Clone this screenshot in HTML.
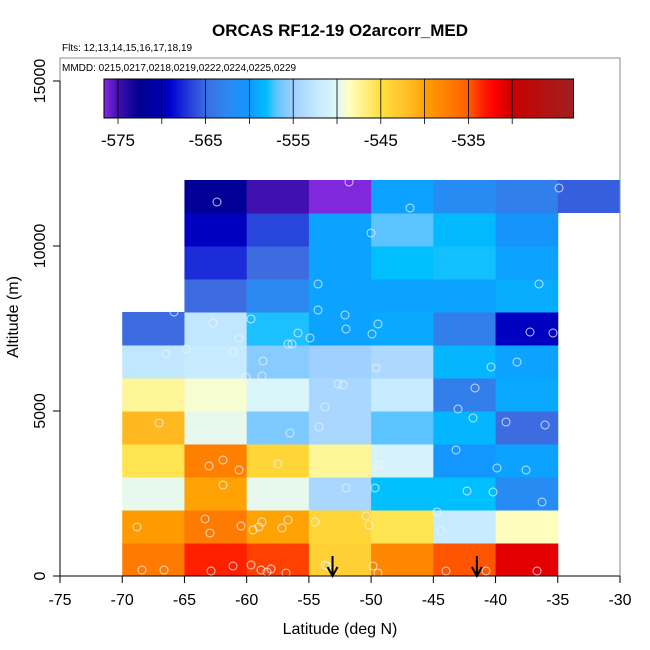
<!DOCTYPE html>
<html><head><meta charset="utf-8"><style>
body{margin:0;background:#fff}
svg{display:block;font-family:"Liberation Sans",sans-serif}
</style></head><body>
<svg id="chart" width="650" height="650" viewBox="0 0 650 650" xmlns="http://www.w3.org/2000/svg"></svg>
<script>
// ---- data ----
const latEdges = [-70,-65,-60,-55,-50,-45,-40];      // left edge of each column (5 deg wide)
const altRows = [0,1000,2000,3000,4000,5000,6000,7000,8000,9000,10000,11000]; // bottom of each row (1000 m)
// values[row][col]; null = empty
const values = [
 [-537,-533.4,-534.2,-543.5,-538,-534.7,-531],
 [-539.5,-537,-540.2,-544,-545.5,-552,-548.5],
 [-549.7,-540.2,-549.7,-554.3,-558,-558,-562],
 [-545.5,-537.5,-544,-547.5,-550.8,-560.3,-559.5],
 [-541.4,-549.7,-556,-554.3,-557,-558.5,-565],
 [-547.5,-549,-550.5,-554.3,-552,-563.5,-559.2],
 [-552.5,-552,-555.7,-555,-554,-558.5,-559.5],
 [-565,-552.5,-557.7,-559.5,-559.2,-563.5,-569.5],
 [null,-565,-562.5,-559.5,-559.5,-559.5,-559],
 [null,-567.5,-565,-559.5,-558,-557.8,-559.5],
 [null,-569.5,-566.5,-559.5,-557,-558.3,-560.5],
 [null,-572,-575,-576.5,-559.5,-562,-563.5]
];
const extraLat = [-35]; const extraAlt = [11000]; const extraVal = [-565.5];
const ptLat = [];
const ptAlt = [];
const ptPx = [[349,182],[217,202],[410,208],[371,233],[318,284],[539,284],[174,312],[213,323],[251,319],[318,310],[345,315],[346,329],[378,324],[239,338],[298,333],[288,344],[292,344],[310,338],[372,334],[166,354],[186,349],[233,352],[263,361],[491,367],[517,362],[530,332],[553,333],[246,377],[376,368],[262,376],[343,385],[338,384],[325,407],[475,388],[458,409],[473,418],[159,423],[290,433],[319,427],[506,422],[545,425],[209,466],[223,460],[239,470],[278,464],[456,450],[497,468],[526,470],[172,484],[223,485],[377,465],[380,465],[346,488],[467,491],[493,492],[154,503],[168,500],[375,488],[437,512],[542,502],[205,519],[210,533],[241,526],[262,522],[259,527],[253,530],[282,528],[288,520],[315,522],[366,516],[369,525],[137,527],[441,531],[142,570],[164,570],[211,571],[233,566],[251,565],[261,570],[271,569],[267,572],[286,573],[325,565],[327,566],[373,566],[378,573],[446,571],[486,571],[537,571],[559,188]];
const arrowLat = [-53.1,-41.5];
const xTicks = [-75,-70,-65,-60,-55,-50,-45,-40,-35,-30];
const yTicks = [0,5000,10000,15000];
const cbTicks = [-575,-570,-565,-560,-555,-550,-545,-540,-535,-530];
const cbLabels = [-575,-565,-555,-545,-535];
const cmV = [-576.7,-575,-572.5,-570,-569,-567.5,-565,-562.6,-560,-558,-557,-555,-552,-550,-548.6,-545,-541.4,-540,-537.5,-535,-533.4,-532,-530,-523];
const cmC = ["#8a2be2","#4010b0","#000090","#0000b0","#0000d0","#1c2cd8","#3c6ce0","#2c88f0","#1098ff","#00bfff","#5cc4ff","#a0d0ff","#c8ecff","#e0f8f8","#ffffc0","#ffe040","#ffb820","#ffa000","#ff8000","#ff6000","#ff2000","#ff0000","#c80000","#a02020"];
ptPx.forEach(p=>{ptLat.push(-75+(p[0]-60)/12.444);ptAlt.push((576-p[1])/0.033);});

// ---- scales ----
const X = v => 60 + (v+75)*560/45;
const Y = v => 576 - v*0.033;
const CB = v => 118 + (v+575)*43.8/5;
function hex(c){return [1,3,5].map(i=>parseInt(c.substr(i,2),16));}
function cmap(v){
  if(v<=cmV[0])return cmC[0];
  for(let i=1;i<cmV.length;i++){ if(v<=cmV[i]){const t=(v-cmV[i-1])/(cmV[i]-cmV[i-1]);const a=hex(cmC[i-1]),b=hex(cmC[i]);return 'rgb('+a.map((x,k)=>Math.round(x+(b[k]-x)*t)).join(',')+')';}}
  return cmC[cmC.length-1];
}
const svg=document.getElementById('chart');const NS='http://www.w3.org/2000/svg';
function mk(tag,at,parent){const e=document.createElementNS(NS,tag);for(const k in at)e.setAttribute(k,at[k]);(parent||svg).appendChild(e);return e;}
function txt(s,at){const e=mk('text',at);e.textContent=s;return e;}

const g=mk('g',{});


values.forEach((row,r)=>row.forEach((v,c)=>{ if(v===null)return;
  const e=mk('rect',{x:X(latEdges[c]),y:Y(altRows[r]+1000),width:X(latEdges[c]+5)-X(latEdges[c])+0.5,height:Y(altRows[r])-Y(altRows[r]+1000)+0.5,fill:cmap(v)},g);
  
  
}));
extraVal.forEach((v,i)=>{const e=mk('rect',{x:X(extraLat[i]),y:Y(extraAlt[i]+1000),width:X(extraLat[i]+5)-X(extraLat[i]),height:Y(extraAlt[i])-Y(extraAlt[i]+1000),fill:cmap(v)},g);
  
  });
ptLat.forEach((la,i)=>{const e=mk('circle',{cx:X(la),cy:Y(ptAlt[i]),r:4,fill:'none',stroke:'#eef4ff','stroke-width':1,opacity:0.8});
  
  });
arrowLat.forEach(la=>{const x=X(la);const a=mk('g',{});
  
  
  mk('line',{x1:x,y1:556,x2:x,y2:575,stroke:'#000','stroke-width':2},a);
  mk('path',{d:`M${x-5},${567} L${x},${576} L${x+5},${567}`,fill:'none',stroke:'#000','stroke-width':2},a);});
const fr=mk('rect',{x:60,y:58,width:560,height:518,fill:'none',stroke:'#888','stroke-width':1});


mk('line',{x1:X(-75),y1:576,x2:X(-30),y2:576,stroke:'#000'});
xTicks.forEach(t=>{mk('line',{x1:X(t),y1:576,x2:X(t),y2:583,stroke:'#000'});
  const e=txt(t,{x:X(t),y:605,'font-size':16,'text-anchor':'middle'});
  
  });
mk('line',{x1:60,y1:Y(0),x2:60,y2:Y(15000),stroke:'#000'});
yTicks.forEach(t=>{mk('line',{x1:53,y1:Y(t),x2:60,y2:Y(t),stroke:'#000'});
  const e=txt(t,{x:0,y:0,'font-size':16,'text-anchor':'middle',transform:`translate(45,${Y(t)}) rotate(-90)`});
  
  });
let e;
e=txt('Latitude (deg N)',{x:340,y:634,'font-size':16,'text-anchor':'middle'});
e=txt('Altitude (m)',{x:0,y:0,'font-size':16,'text-anchor':'middle',transform:'translate(18,317) rotate(-90)'});
e=txt('ORCAS RF12-19 O2arcorr_MED',{x:340,y:36,'font-size':17,'font-weight':'bold','text-anchor':'middle'});
e=txt('Flts: 12,13,14,15,16,17,18,19',{x:62,y:51,'font-size':10});
e=txt('MMDD: 0215,0217,0218,0219,0222,0224,0225,0229',{x:62,y:71,'font-size':10});
const defs=mk('defs',{});const lg=mk('linearGradient',{id:'cbg',x1:0,x2:1,y1:0,y2:0},defs);
const lo=-576.6,hi=-523;
for(let v=lo;v<=hi;v+=0.5){mk('stop',{offset:((v-lo)/(hi-lo)).toFixed(4),'stop-color':cmap(v)},lg);}
const cb=mk('rect',{x:CB(lo),y:79,width:CB(hi)-CB(lo),height:39,fill:'url(#cbg)',stroke:'#000','stroke-width':1});


cbTicks.forEach(t=>{mk('line',{x1:CB(t),y1:79,x2:CB(t),y2:124,stroke:'#000','stroke-width':0.8});});
cbLabels.forEach(t=>{const e=txt(t,{x:CB(t),y:146,'font-size':17,'text-anchor':'middle'});
  
  });
</script>
</body></html>
